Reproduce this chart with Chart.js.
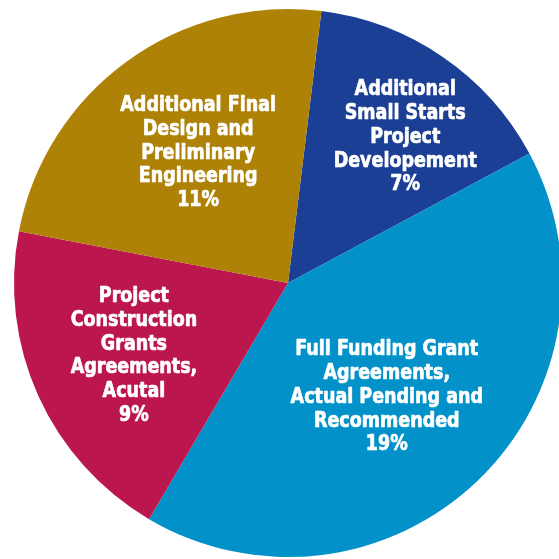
<!DOCTYPE html>
<html>
<head>
<meta charset="utf-8">
<script src="https://cdn.jsdelivr.net/npm/chart.js@4"></script>
<style>
  html, body { margin: 0; padding: 0; background: #ffffff; overflow: hidden; width: 559px; height: 559px; }
  #wrap { position: absolute; left: 0; top: 0; width: 562px; height: 559px; }
</style>
</head>
<body>
<div id="wrap"><canvas id="c"></canvas></div>
<script>
// ---- data ----
const categories = [
  ["Additional", "Small Starts", "Project", "Developement"],
  ["Full Funding Grant", "Agreements,", "Actual Pending and", "Recommended"],
  ["Project", "Construction", "Grants", "Agreements,", "Acutal"],
  ["Additional Final", "Design and", "Preliminary", "Engineering"]
];
const shares = [7, 19, 9, 11];
const shareLabels = ["7%", "19%", "9%", "11%"];

// ---- style ----
const sliceColors = ["#1B3F94", "#0292C9", "#BC164F", "#AE8107"];
const labelPlacement = [
  { ratio: 0.683, turn: 4.4 },
  { ratio: 0.551, turn: 3.0 },
  { ratio: 0.622, turn: -1.0 },
  { ratio: 0.577, turn: 1.4 }
];
const labelFont = 'bold 22px "DejaVu Sans Condensed", "Liberation Sans Narrow", sans-serif';
const labelSquash = 0.885;
const lineHeight = 23.7;

const sliceLabels = {
  id: 'sliceLabels',
  afterDatasetsDraw(chart) {
    const ctx = chart.ctx;
    const meta = chart.getDatasetMeta(0);
    meta.data.forEach((arc, i) => {
      const p = arc.getProps(['x', 'y', 'startAngle', 'endAngle', 'outerRadius'], true);
      const mid = (p.startAngle + p.endAngle) / 2 + labelPlacement[i].turn * Math.PI / 180;
      const r = p.outerRadius * labelPlacement[i].ratio;
      const cx = p.x + Math.cos(mid) * r;
      const cy = p.y + Math.sin(mid) * r;
      const lines = categories[i].concat([shareLabels[i]]);
      const n = lines.length;
      ctx.save();
      ctx.translate(cx, cy);
      ctx.scale(labelSquash, 1);
      ctx.fillStyle = '#ffffff';
      ctx.strokeStyle = '#ffffff';
      ctx.lineWidth = 0.7;
      ctx.lineJoin = 'round';
      ctx.font = labelFont;
      ctx.textAlign = 'center';
      ctx.textBaseline = 'middle';
      lines.forEach((t, k) => {
        const y = (k - (n - 1) / 2) * lineHeight;
        ctx.strokeText(t, 0, y);
        ctx.fillText(t, 0, y);
      });
      ctx.restore();
    });
  }
};

new Chart(document.getElementById('c'), {
  type: 'pie',
  data: {
    labels: categories.map(l => l.join(' ')),
    datasets: [{
      data: shares,
      backgroundColor: sliceColors,
      borderWidth: 0
    }]
  },
  options: {
    responsive: true,
    maintainAspectRatio: false,
    animation: false,
    rotation: 7,
    layout: { padding: { left: 14, top: 9, right: 0, bottom: 2 } },
    plugins: {
      legend: { display: false },
      tooltip: { enabled: false }
    }
  },
  plugins: [sliceLabels]
});
</script>
</body>
</html>
